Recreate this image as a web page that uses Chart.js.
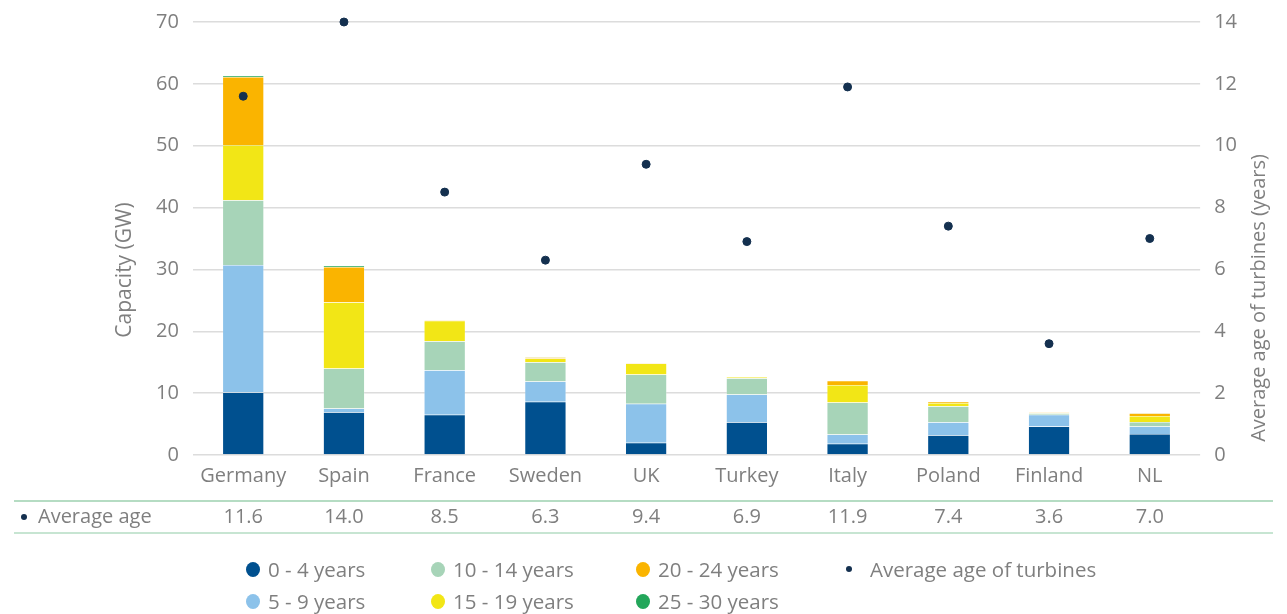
<!DOCTYPE html>
<html>
<head>
<meta charset="utf-8">
<script src="https://cdn.jsdelivr.net/npm/chart.js@4.4.1/dist/chart.umd.min.js"></script>
<style>
  body { margin: 0; background: #fff; font-family: "Open Sans", sans-serif; }
  #wrap { position: relative; width: 1287px; height: 614px; }
  #legend {
    position: absolute; left: 246px; top: 557px;
    display: grid; grid-template-columns: 185px 205px 210px 280px;
    row-gap: 8px; color: #7f7f7f; font-size: 20.5px;
  }
  .item { display: flex; align-items: center; height: 24px; white-space: nowrap; }
  .dot { width: 14px; height: 15px; border-radius: 50%; margin-right: 8px; flex: none; }
  .dot.small { width: 6px; height: 6px; margin: 0 18px 0 0; }
</style>
</head>
<body>
<div id="wrap">
  <canvas id="c" width="1287" height="614"></canvas>
  <div id="legend"></div>
</div>
<script>
// categories and values
const countries = ['Germany','Spain','France','Sweden','UK','Turkey','Italy','Poland','Finland','NL'];
const age0to4   = [10.1, 6.9, 6.5, 8.6, 2.0, 5.3, 1.8, 3.2, 4.6, 3.4];
const age5to9   = [20.6, 0.6, 7.2, 3.3, 6.3, 4.5, 1.5, 2.1, 1.9, 1.2];
const age10to14 = [10.5, 6.5, 4.7, 3.1, 4.7, 2.6, 5.2, 2.6, 0.25, 0.75];
const age15to19 = [8.9, 10.7, 3.3, 0.6, 1.8, 0.2, 2.8, 0.5, 0.1, 0.95];
const age20to24 = [11.0, 5.7, 0.1, 0.2, 0.1, 0.05, 0.7, 0.2, 0.05, 0.45];
const age25to30 = [0.2, 0.2, 0, 0.1, 0, 0, 0, 0, 0, 0.05];
const avgAge    = [11.6, 14.0, 8.5, 6.3, 9.4, 6.9, 11.9, 7.4, 3.6, 7.0];

const grey = '#7f7f7f';
const navy = '#14304f';

const bar = (label, data, color) => ({
  type: 'bar', label, data, backgroundColor: color,
  borderColor: 'rgba(255,255,255,0.5)', borderWidth: 0.5,
  yAxisID: 'y', order: 2, barPercentage: 0.41, categoryPercentage: 1
});

const datasets = [
  bar('0 - 4 years', age0to4, '#00508f'),
  bar('5 - 9 years', age5to9, '#8cc2ea'),
  bar('10 - 14 years', age10to14, '#a7d4b8'),
  bar('15 - 19 years', age15to19, '#f2e616'),
  bar('20 - 24 years', age20to24, '#fab400'),
  bar('25 - 30 years', age25to30, '#23a65a'),
  {
    type: 'line', label: 'Average age of turbines', data: avgAge,
    showLine: false, pointRadius: 4, pointHoverRadius: 4,
    pointBackgroundColor: navy, pointBorderColor: navy,
    backgroundColor: navy, yAxisID: 'y1', order: 0, clip: false
  }
];

// axis titles (placed a bit below centre like the reference) and the table row
const extras = {
  id: 'extras',
  afterDraw(chart) {
    const ctx = chart.ctx;
    const xs = chart.scales.x;
    ctx.save();
    ctx.fillStyle = grey;
    ctx.textAlign = 'center';
    ctx.textBaseline = 'middle';

    ctx.font = '21px "Open Sans"';
    ctx.save(); ctx.translate(125, 270); ctx.rotate(-Math.PI / 2);
    ctx.fillText('Capacity (GW)', 0, 0); ctx.restore();
    ctx.font = '20px "Open Sans"';
    ctx.save(); ctx.translate(1259, 298); ctx.rotate(-Math.PI / 2);
    ctx.fillText('Average age of turbines (years)', 0, 0); ctx.restore();

    ctx.strokeStyle = '#b5dcc3';
    ctx.lineWidth = 2;
    ctx.beginPath(); ctx.moveTo(14, 501); ctx.lineTo(1273, 501); ctx.stroke();
    ctx.lineWidth = 1.5;
    ctx.beginPath(); ctx.moveTo(14, 533); ctx.lineTo(1273, 533); ctx.stroke();
    ctx.fillStyle = navy;
    ctx.beginPath(); ctx.arc(24, 517, 3, 0, Math.PI * 2); ctx.fill();
    ctx.fillStyle = grey;
    ctx.font = '20px "Open Sans"';
    ctx.textAlign = 'left';
    ctx.fillText('Average age', 38, 517);
    ctx.textAlign = 'center';
    avgAge.forEach((v, i) => ctx.fillText(v.toFixed(1), xs.getPixelForValue(i), 517));
    ctx.restore();
  }
};

Chart.defaults.font.family = '"Open Sans", sans-serif';
Chart.defaults.color = grey;

new Chart(document.getElementById('c'), {
  data: { labels: countries, datasets },
  options: {
    responsive: false,
    devicePixelRatio: 1,
    animation: false,
    layout: { padding: { top: 0, left: 142, right: 36, bottom: 125 } },
    plugins: { legend: { display: false }, tooltip: { enabled: false } },
    scales: {
      x: {
        stacked: true,
        grid: { display: false },
        border: { display: false },
        ticks: { font: { size: 20 }, color: grey, padding: 1 }
      },
      y: {
        stacked: true, min: 0, max: 70,
        ticks: { stepSize: 10, font: { size: 20, lineHeight: 0.8 }, color: grey, padding: 14 },
        grid: { color: '#dcdcdc', lineWidth: 1.5, drawTicks: false },
        border: { display: false }
      },
      y1: {
        position: 'right', min: 0, max: 14,
        ticks: { stepSize: 2, font: { size: 20, lineHeight: 0.8 }, color: grey, padding: 14 },
        grid: { drawOnChartArea: false, drawTicks: false },
        border: { display: false }
      }
    }
  },
  plugins: [extras]
});

// legend built from the datasets, laid out column-wise like the reference
const order = [0, 2, 4, 6, 1, 3, 5];
const legend = document.getElementById('legend');
order.forEach(i => {
  const ds = datasets[i];
  const item = document.createElement('div');
  item.className = 'item';
  const dot = document.createElement('span');
  dot.className = ds.type === 'line' ? 'dot small' : 'dot';
  dot.style.background = ds.type === 'line' ? navy : ds.backgroundColor;
  const txt = document.createElement('span');
  txt.textContent = ds.label;
  item.appendChild(dot); item.appendChild(txt);
  legend.appendChild(item);
});
</script>
</body>
</html>
